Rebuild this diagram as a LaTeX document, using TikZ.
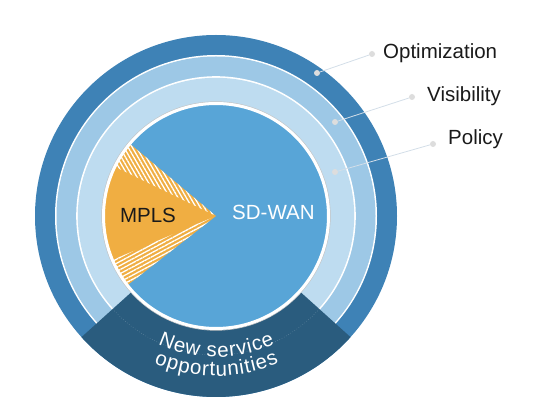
\documentclass[tikz,border=0pt]{standalone}
\usepackage{fontspec}
\setmainfont{Liberation Sans}
\usetikzlibrary{patterns.meta,decorations.text}
\definecolor{ringout}{HTML}{3E82B6}
\definecolor{ringmid}{HTML}{9DC8E6}
\definecolor{ringin}{HTML}{BEDCF0}
\definecolor{core}{HTML}{58A5D7}
\definecolor{bandc}{HTML}{2A5C7E}
\definecolor{mplsc}{HTML}{F0AE42}
\definecolor{txt}{HTML}{1A1A1A}
\definecolor{leader}{HTML}{D3DEE8}
\definecolor{dotc}{HTML}{DDDDDD}
\newcommand{\bigtxt}{\fontsize{20.5}{24}\selectfont}
\newcommand{\bandtxt}{\fontsize{20.5}{24}\selectfont\kern0.9pt}
\tikzset{
  lbl/.style={anchor=west, text=txt, font=\bigtxt, inner sep=0pt},
  leaderline/.style={draw=leader, line width=0.8pt},
  labeldot/.style={circle, fill=dotc, minimum size=6pt, inner sep=0pt},
  ringdot/.style={circle, fill=dotc, minimum size=6pt, inner sep=0pt},
  bandtext/.style={decorate, decoration={text along path, text align=center, text color=white}}
}
\begin{document}
\begin{tikzpicture}[x=1pt,y=1pt]
\useasboundingbox (0,0) rectangle (552,415);
\begin{scope}[shift={(216,199)}]
  \coordinate (C) at (0,0);
  % rings
  \fill[ringout] (C) circle[radius=181];
  \fill[white] (C) circle[radius=161];
  \fill[ringmid] (C) circle[radius=159.5];
  \fill[white] (C) circle[radius=139.8];
  \fill[ringin] (C) circle[radius=138.2];
  % bottom band
  \fill[bandc] (222:114) arc[start angle=222,end angle=318,radius=114]
     -- (318:181) arc[start angle=318,end angle=222,radius=181] -- cycle;
  \draw[draw=bandc!70!white, dotted, line width=0.5pt] (222:139) arc[start angle=222,end angle=318,radius=139];
  % core
  \fill[core] (C) circle[radius=112];
  \fill[mplsc] (C) -- (140:112) arc[start angle=140,end angle=218,radius=112] -- cycle;
  \begin{scope}
    \clip (C) -- (140:112) arc[start angle=140,end angle=154,radius=112] -- cycle;
    \fill[pattern={Lines[angle=120,distance=3.6pt,line width=1.3pt]}, pattern color=white] (-120,-120) rectangle (10,120);
  \end{scope}
  \begin{scope}
    \clip (C) -- (203:112) arc[start angle=203,end angle=218,radius=112] -- cycle;
    \fill[pattern={Lines[angle=28,distance=3.6pt,line width=1.3pt]}, pattern color=white] (-120,-120) rectangle (10,120);
  \end{scope}
  \draw[gray!45, line width=0.7pt] (C) circle[radius=114.3];
  \draw[white, line width=3pt] (C) circle[radius=112.5];
  % texts
  \node[font=\bigtxt, text=txt, inner sep=0pt] (mpls) at (-68,1) {MPLS};
  \node[font=\bigtxt, text=white, anchor=west, inner sep=0pt] (sdwan) at (16,4) {SD-WAN};
  \path[bandtext, decoration={text={|\bandtxt|New service}}] (234:141) arc[start angle=234,end angle=306,radius=141];
  \path[bandtext, decoration={text={|\bandtxt|opportunities}}] (234:160) arc[start angle=234,end angle=306,radius=160];
\end{scope}
% labels
\node[lbl] (opt) at (383,362) {Optimization};
\node[lbl] (vis) at (427,319) {Visibility};
\node[lbl] (pol) at (448,276) {Policy};
\node[labeldot] (optd) at (372,361) {};
\node[labeldot] (visd) at (412,318) {};
\node[labeldot] (pold) at (433,271) {};
\node[ringdot] (optr) at (317,342) {};
\node[ringdot] (visr) at (335,293) {};
\node[ringdot] (polr) at (335,243) {};
\draw[leaderline] (optr) -- (optd);
\draw[leaderline] (visr) -- (visd);
\draw[leaderline] (polr) -- (pold);
\end{tikzpicture}
\end{document}
